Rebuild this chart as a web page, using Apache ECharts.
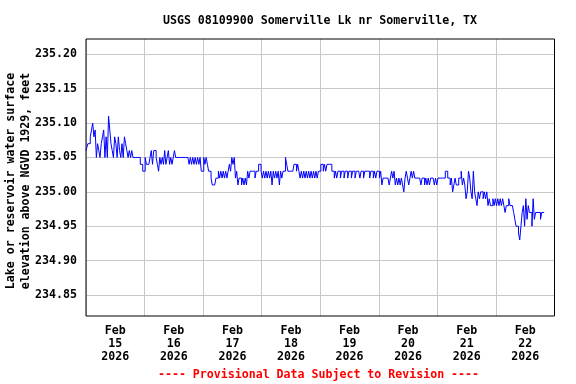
<!DOCTYPE html>
<html><head><meta charset="utf-8">
<script src="https://cdn.jsdelivr.net/npm/echarts@6/dist/echarts.min.js"></script>
<style>html,body{margin:0;padding:0;background:#fff}#c{width:576px;height:384px}</style>
</head><body><div id="c"></div><script>
const title = 'USGS 08109900 Somerville Lk nr Somerville, TX';
const yNameLines = ['Lake or reservoir water surface', 'elevation above NGVD 1929, feet'];
const footer = '---- Provisional Data Subject to Revision ----';
const dayLabels = ['Feb\n15\n2026','Feb\n16\n2026','Feb\n17\n2026','Feb\n18\n2026','Feb\n19\n2026','Feb\n20\n2026','Feb\n21\n2026','Feb\n22\n2026'];
const stepHours = 0.5; // readings every 30 minutes, hours from Feb 15 00:00

const feb15 = [235.06,235.06,235.07,235.07,235.08,235.09,235.10,235.08,235.09,235.05,
  235.07,235.06,235.05,235.07,235.08,235.09,235.05,235.08,235.05,235.11,
  235.09,235.07,235.06,235.05,235.08,235.07,235.05,235.08,235.06,235.05,
  235.07,235.05,235.08,235.07,235.06,235.05,235.06,235.05,235.06,235.05,
  235.05,235.05,235.05,235.05,235.05,235.04,235.04,235.03];
const feb16 = [235.03,235.05,235.04,235.04,235.04,235.05,235.06,235.04,235.06,235.06,
  235.05,235.04,235.03,235.05,235.04,235.05,235.04,235.06,235.04,235.05,
  235.06,235.04,235.05,235.04,235.05,235.06,235.05,235.05,235.05,235.05,
  235.05,235.05,235.05,235.05,235.05,235.05,235.05,235.04,235.05,235.04,
  235.05,235.04,235.05,235.04,235.05,235.04,235.05,235.03];
const feb17 = [235.03,235.05,235.04,235.05,235.04,235.03,235.03,235.02,235.01,235.01,
  235.01,235.02,235.02,235.03,235.02,235.03,235.02,235.03,235.02,235.03,
  235.02,235.03,235.04,235.03,235.05,235.04,235.05,235.02,235.03,235.01,
  235.02,235.02,235.01,235.02,235.01,235.02,235.01,235.03,235.02,235.03,
  235.03,235.03,235.03,235.02,235.03,235.03,235.04,235.04];
const feb18 = [235.03,235.02,235.03,235.02,235.03,235.02,235.03,235.02,235.03,235.01,
  235.03,235.02,235.03,235.02,235.03,235.01,235.03,235.02,235.03,235.03,
  235.05,235.04,235.03,235.03,235.03,235.03,235.03,235.04,235.04,235.03,
  235.04,235.03,235.02,235.03,235.02,235.03,235.02,235.03,235.02,235.03,
  235.02,235.03,235.02,235.03,235.02,235.03,235.02,235.03];
const feb19 = [235.03,235.04,235.04,235.03,235.04,235.03,235.04,235.04,235.04,235.04,
  235.03,235.03,235.02,235.03,235.02,235.03,235.03,235.02,235.03,235.03,
  235.02,235.03,235.03,235.02,235.03,235.03,235.02,235.03,235.03,235.02,
  235.03,235.03,235.03,235.02,235.03,235.03,235.02,235.03,235.03,235.03,
  235.03,235.02,235.03,235.03,235.02,235.03,235.02,235.03];
const feb20 = [235.03,235.02,235.03,235.01,235.02,235.02,235.02,235.02,235.02,235.01,
  235.02,235.03,235.02,235.03,235.01,235.02,235.01,235.02,235.01,235.02,
  235.01,235.00,235.02,235.03,235.02,235.01,235.02,235.03,235.02,235.03,
  235.02,235.02,235.02,235.02,235.02,235.01,235.02,235.02,235.01,235.02,
  235.01,235.02,235.01,235.02,235.02,235.02,235.01,235.02];
const feb21 = [235.01,235.02,235.02,235.02,235.02,235.02,235.02,235.03,235.03,235.02,
  235.02,235.01,235.02,235.00,235.01,235.02,235.01,235.01,235.02,235.02,
  235.03,235.01,235.02,235.01,234.99,235.00,235.03,235.02,235.00,234.99,
  235.03,235.00,234.99,234.98,235.00,234.99,235.00,235.00,234.99,235.00,
  234.99,235.00,234.98,234.99,234.98,234.98,234.99,234.98];
const feb22 = [234.99,234.98,234.99,234.98,234.99,234.98,234.99,234.98,234.97,234.98,
  234.98,234.99,234.98,234.98,234.98,234.97,234.96,234.95,234.95,234.94,
  234.93,234.95,234.97,234.98,234.95,234.99,234.96,234.98,234.97,234.97,
  234.95,234.99,234.96,234.97,234.97,234.97,234.97,234.96,234.97,234.97,
  234.97];
const days = [feb15, feb16, feb17, feb18, feb19, feb20, feb21, feb22];

const points = [];
days.forEach((arr, d) => arr.forEach((v, i) => points.push([d * 24 + i * stepHours, v])));

const FONT = '"DejaVu Sans Mono", "Liberation Mono", monospace';
const chart = echarts.init(document.getElementById('c'), null, {renderer: 'canvas'});
chart.setOption({
  animation: false,
  backgroundColor: '#fff',
  grid: [
    {left: 86, right: 21.5, top: 39, bottom: 68, show: true, borderColor: '#000', borderWidth: 1, backgroundColor: 'transparent', z: 3},
    {left: 86, right: 21.5, top: 19.9, bottom: 54.6}
  ],
  xAxis: [
    {gridIndex: 0, type: 'value', min: 0, max: 192, interval: 24,
     axisLabel: {show: false}, axisTick: {show: false}, axisLine: {show: false},
     splitLine: {show: true, lineStyle: {color: '#c8c8c8', width: 1}}},
    {gridIndex: 1, type: 'value', min: 0, max: 192, show: false, splitLine: {show: false}},
    {gridIndex: 0, type: 'category', data: dayLabels, boundaryGap: true, position: 'bottom',
     axisLine: {show: false}, axisTick: {show: false}, splitLine: {show: false},
     axisLabel: {margin: 8, color: '#000', fontFamily: FONT, fontWeight: 'bold', fontSize: 11.6, lineHeight: 13, interval: 0}}
  ],
  yAxis: [
    {gridIndex: 0, type: 'value', min: 0, max: 1, show: false},
    {gridIndex: 1, type: 'value', min: 234.80, max: 235.25, interval: 0.05,
     axisLine: {show: false}, axisTick: {show: false},
     axisLabel: {showMinLabel: false, showMaxLabel: false, margin: 9, color: '#000',
       fontFamily: FONT, fontWeight: 'bold', fontSize: 11.6, formatter: v => v.toFixed(2)},
     splitLine: {show: true, showMinLine: false, showMaxLine: false, lineStyle: {color: '#c8c8c8', width: 1}}}
  ],
  series: [{
    type: 'line', xAxisIndex: 1, yAxisIndex: 1, data: points, showSymbol: false, symbol: 'none',
    step: 'middle', lineStyle: {color: '#0000ff', width: 1}, z: 5
  }],
  graphic: [
    {type: 'text', x: 320, y: 20.5, style: {text: title, fontFamily: FONT, fontWeight: 'bold', fontSize: 11.6, fill: '#000', textAlign: 'center', textVerticalAlign: 'middle'}},
    {type: 'text', x: 18.5, y: 181, rotation: Math.PI / 2, style: {text: yNameLines.join('\n'), fontFamily: FONT, fontWeight: 'bold', fontSize: 11.6, lineHeight: 15, fill: '#000', textAlign: 'center', textVerticalAlign: 'middle'}},
    {type: 'text', x: 318.5, y: 374.5, style: {text: footer, fontFamily: FONT, fontWeight: 'bold', fontSize: 11.6, fill: '#ff0000', textAlign: 'center', textVerticalAlign: 'middle'}}
  ]
});
</script></body></html>
